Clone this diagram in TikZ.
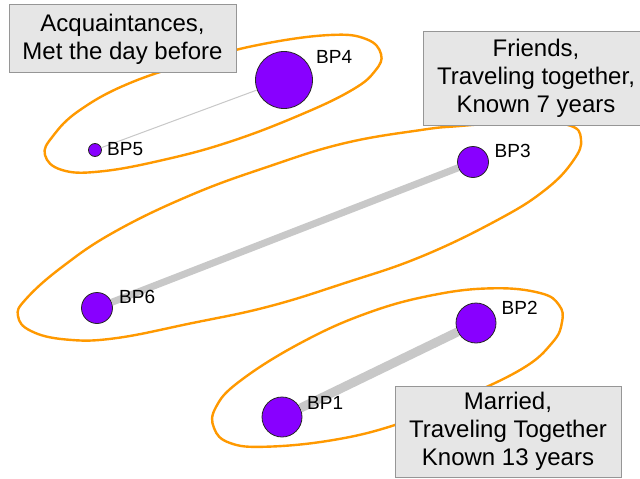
\documentclass[tikz,border=0pt]{standalone}
\usepackage{fontspec}
\setmainfont{Liberation Sans}
\definecolor{grpor}{RGB}{255,153,0}
\definecolor{bpviolet}{RGB}{136,0,255}
\definecolor{tiegray}{RGB}{200,200,200}
\definecolor{notegray}{RGB}{230,230,230}
\definecolor{noteline}{RGB}{150,150,150}
\begin{document}
\begin{tikzpicture}[x=1pt,y=-1pt,
  group/.style={draw=grpor, line width=2.4pt, line join=round},
  bp/.style={circle, fill=bpviolet, draw=black!85, line width=0.8pt, inner sep=0pt},
  tie/.style={draw=tiegray},
  lbl/.style={font=\fontsize{19}{22}\selectfont, inner sep=0pt, anchor=base west},
  note/.style={draw=noteline, fill=notegray, line width=1pt, inner sep=0pt, align=center,
    font=\fontsize{24}{28}\selectfont}]
\useasboundingbox[fill=white] (0,0) rectangle (640,479);

% groups
\draw[group] plot[smooth cycle, tension=0.7] coordinates {
  (200,60) (263,44) (330,35) (366,39) (381,54) (375,71) (352,90) (300,115)
  (230,141.7) (163,160) (100,171.5) (62,170) (45,155) (53,136) (80,110) (130,83)};
\draw[group] plot[smooth cycle, tension=0.7] coordinates {
  (460,126) (421,130) (344,143.3) (268,166.7) (191,195) (114.8,231.7) (62,267)
  (26,299) (18,316) (31,331) (66,339.5) (114.8,338.3) (191,323.3) (268,306.7)
  (344,283.3) (421,256.7) (497.5,220) (545,190) (573,161) (581,139) (568,125)
  (520,122)};
\draw[group] plot[smooth cycle, tension=0.7] coordinates {
  (493.3,288.3) (540,293) (559,305) (562,322) (552,343) (520,370) (450,403)
  (395,425) (333.3,440) (266.7,446.7) (230,443) (214,428) (216,407) (240,381)
  (300,343.3) (366.7,313.3) (433.3,295)};

% persons
\node[bp, minimum size=57pt] (bp4) at (284,80) {};
\node[bp, minimum size=13pt] (bp5) at (95,150) {};
\node[bp, minimum size=31pt] (bp3) at (473,162) {};
\node[bp, minimum size=31pt] (bp6) at (97,308) {};
\node[bp, minimum size=40pt] (bp2) at (476,323) {};
\node[bp, minimum size=40pt] (bp1) at (282,417) {};

% ties
\draw[tie, line width=1pt] (bp5) -- (bp4);
\draw[tie, line width=7pt] (bp6) -- (bp3);
\draw[tie, line width=9pt] (bp1) -- (bp2);

% labels
\node[lbl] (l4) at (316,63) {BP4};
\node[lbl] (l5) at (107,155) {BP5};
\node[lbl] (l3) at (494.5,157.7) {BP3};
\node[lbl] (l6) at (119,303.3) {BP6};
\node[lbl] (l2) at (501.5,314.3) {BP2};
\node[lbl] (l1) at (307,409.3) {BP1};

% notes
\node[note, minimum width=227pt, minimum height=67.7pt] (acq) at (122.5,38.8)
  {Acquaintances,\\Met the day before};
\node[note, minimum width=226pt, minimum height=93.3pt] (fri) at (536,78.4)
  {Friends,\\Traveling together,\\Known 7 years};
\node[note, minimum width=226pt, minimum height=91pt] (mar) at (508,431.7)
  {Married,\\Traveling Together\\Known 13 years};
\end{tikzpicture}
\end{document}
